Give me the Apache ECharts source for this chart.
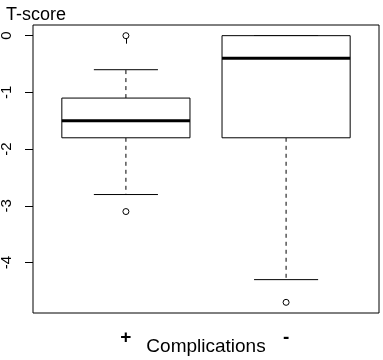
<!DOCTYPE html>
<html>
<head>
<meta charset="utf-8">
<script src="https://cdn.jsdelivr.net/npm/echarts@6/dist/echarts.min.js"></script>
<style>
  html, body { margin: 0; padding: 0; background: #fff; }
  #chart { width: 383px; height: 360px; }
</style>
</head>
<body>
<div id="chart"></div>
<script>
// box plot values
var groups = ['+', '-'];
var whiskerLow = [-2.8, -4.3];
var q1 = [-1.8, -1.8];
var median = [-1.5, -0.4];
var q3 = [-1.1, 0];
var whiskerHigh = [-0.6, 0];
var outliers = [[1, 0], [1, -3.1], [2, -4.7]];
var yTicks = [0, -1, -2, -3, -4];
var xTicks = [1, 2];

var boxData = groups.map(function (g, i) {
  return [i + 1, whiskerLow[i], q1[i], median[i], q3[i], whiskerHigh[i]];
});

var chart = echarts.init(document.getElementById('chart'));

function renderBox(params, api) {
  var x = api.value(0);
  var lo = api.value(1), b1 = api.value(2), md = api.value(3), b3 = api.value(4), hi = api.value(5);
  var half = 0.4, cap = 0.2;
  var pLeft = api.coord([x - half, b3]);
  var pRight = api.coord([x + half, b1]);
  var mid = api.coord([x, md]);
  var pLo = api.coord([x, lo]);
  var pHi = api.coord([x, hi]);
  var pQ1 = api.coord([x, b1]);
  var pQ3 = api.coord([x, b3]);
  var capL = api.coord([x - cap, lo])[0];
  var capR = api.coord([x + cap, lo])[0];
  var line = { stroke: '#000', lineWidth: 1 };
  var dash = { stroke: '#000', lineWidth: 1, lineDash: [4, 4] };
  return {
    type: 'group',
    children: [
      { type: 'line', shape: { x1: pQ3[0], y1: pQ3[1], x2: pHi[0], y2: pHi[1] }, style: dash },
      { type: 'line', shape: { x1: pQ1[0], y1: pQ1[1], x2: pLo[0], y2: pLo[1] }, style: dash },
      { type: 'line', shape: { x1: capL, y1: pHi[1], x2: capR, y2: pHi[1] }, style: line },
      { type: 'line', shape: { x1: capL, y1: pLo[1], x2: capR, y2: pLo[1] }, style: line },
      { type: 'rect', shape: { x: pLeft[0], y: pLeft[1], width: pRight[0] - pLeft[0], height: pRight[1] - pLeft[1] },
        style: { fill: '#fff', stroke: '#000', lineWidth: 1 } },
      { type: 'line', shape: { x1: pLeft[0], y1: mid[1], x2: pRight[0], y2: mid[1] },
        style: { stroke: '#000', lineWidth: 3 } }
    ]
  };
}

var option = {
  animation: false,
  backgroundColor: '#fff',
  textStyle: { fontFamily: 'Liberation Sans, Arial, sans-serif' },
  title: {
    text: 'T-score',
    left: 1,
    top: 1,
    textStyle: { fontFamily: 'Liberation Sans', fontSize: 18, fontWeight: 'normal', color: '#000' }
  },
  grid: {
    left: 33, right: 4, top: 25, bottom: 47,
    show: true, borderColor: '#000', borderWidth: 1,
    outerBoundsMode: 'none'
  },
  xAxis: {
    type: 'value',
    min: 0.42,
    max: 2.58,
    name: 'Complications',
    nameLocation: 'middle',
    nameGap: 24,
    nameMoveOverlap: false,
    nameTextStyle: { fontFamily: 'Liberation Sans', fontSize: 19, color: '#000' },
    splitLine: { show: false },
    axisLine: { show: false },
    axisTick: { show: true, customValues: xTicks, length: 8, lineStyle: { color: '#000' } },
    axisLabel: {
      customValues: xTicks,
      margin: 15,
      fontSize: 19,
      fontWeight: 'bold',
      color: '#000',
      formatter: function (v) { return groups[Math.round(v) - 1]; }
    }
  },
  yAxis: {
    type: 'value',
    min: -4.888,
    max: 0.188,
    splitLine: { show: false },
    axisLine: { show: false },
    axisTick: { show: true, customValues: yTicks, length: 8, lineStyle: { color: '#000' } },
    axisLabel: {
      customValues: yTicks,
      rotate: 90,
      margin: 19,
      fontSize: 15,
      color: '#000'
    }
  },
  series: [
    {
      type: 'custom',
      renderItem: renderBox,
      encode: { x: 0, y: [1, 2, 3, 4, 5] },
      data: boxData,
      z: 2
    },
    {
      type: 'scatter',
      data: outliers,
      symbol: 'circle',
      symbolSize: 6,
      itemStyle: { color: '#fff', borderColor: '#000', borderWidth: 1, opacity: 1 },
      z: 3
    }
  ]
};

chart.setOption(option);
</script>
</body>
</html>
